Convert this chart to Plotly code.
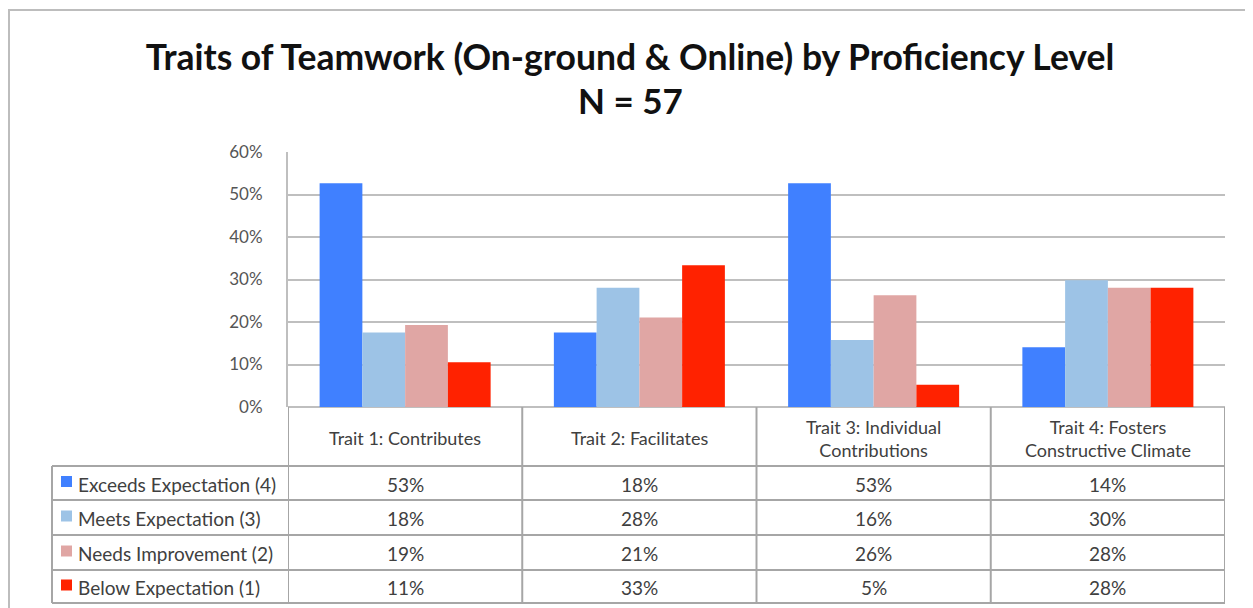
import plotly.graph_objects as go

# ---- data ----
categories = ["Trait 1: Contributes", "Trait 2: Facilitates",
              "Trait 3: Individual<br>Contributions",
              "Trait 4: Fosters<br>Constructive Climate"]
series_names = ["Exceeds Expectation (4)", "Meets Expectation (3)",
                "Needs Improvement (2)", "Below Expectation (1)"]
exceeds = [52.63, 17.54, 52.63, 14.04]
meets = [17.54, 28.07, 15.79, 29.82]
needs = [19.30, 21.05, 26.32, 28.07]
below = [10.53, 33.33, 5.26, 28.07]
series_values = [exceeds, meets, needs, below]
series_colors = ["#4080FF", "#9DC3E6", "#E0A6A4", "#FF2200"]
y_ticks = [0, 10, 20, 30, 40, 50, 60]
y_tick_labels = ["0%", "10%", "20%", "30%", "40%", "50%", "60%"]

# ---- geometry (page pixels; the page body has an 8px margin) ----
OFF = 8
W, H = 1253 - OFF, 608 - OFF
PL, PR, PT, PB = 288, 1225, 152, 407          # plot area in page px
L, T = PL - OFF, PT - OFF
R, B = W - (PR - OFF), H - (PB - OFF)
PW, PH = W - L - R, H - T - B
FONT = "Lato"
GRID = "#BFBFBF"
TLINE = "#A6A6A6"
TXT = "#404040"

def px(xp):
    return (xp - OFF - L) / PW

def py(yp):
    return (H - B - (yp - OFF)) / PH

xidx = list(range(len(categories)))

fig = go.Figure()
for name, vals, col in zip(series_names, series_values, series_colors):
    fig.add_trace(go.Bar(x=xidx, y=vals, name=name, marker_color=col,
                         marker_line_width=0, showlegend=False,
                         hovertemplate="%{y:.0f}%<extra>" + name + "</extra>"))

shapes = []
annotations = []

# outer border
shapes.append(dict(type="rect", xref="paper", yref="paper",
                   x0=px(9), x1=px(1247), y0=py(640), y1=py(10),
                   line=dict(color="#BDBDBD", width=2), layer="below"))

# table row boundaries
row_edges = [466, 500, 535, 570, 603]
for yv in row_edges:
    shapes.append(dict(type="line", xref="paper", yref="paper",
                       x0=px(52), x1=1, y0=py(yv), y1=py(yv),
                       line=dict(color=TLINE, width=2)))
# legend column left edge
shapes.append(dict(type="line", xref="paper", yref="paper",
                   x0=px(52), x1=px(52), y0=py(466), y1=py(603),
                   line=dict(color=TLINE, width=2)))
# category column lines
for i in range(len(categories) + 1):
    shapes.append(dict(type="line", xref="x", yref="paper",
                       x0=i - 0.5, x1=i - 0.5, y0=0, y1=py(603),
                       line=dict(color=TLINE, width=2)))

# header text
for i, c in enumerate(categories):
    annotations.append(dict(x=i, y=py(438), xref="x", yref="paper",
                            xanchor="center", yanchor="middle",
                            text=c, showarrow=False, align="center",
                            font=dict(family=FONT, size=18, color=TXT)))

# row labels, legend keys, values
for r, (name, vals, col) in enumerate(zip(series_names, series_values, series_colors)):
    top, bot = row_edges[r], row_edges[r + 1]
    cy = (top + bot) / 2 + 1
    shapes.append(dict(type="rect", xref="paper", yref="paper",
                       x0=px(61), x1=px(72), y0=py(cy + 3), y1=py(cy - 8),
                       fillcolor=col, line=dict(width=0)))
    annotations.append(dict(x=px(76), y=py(cy), xref="paper", yref="paper",
                            text=name, showarrow=False,
                            xanchor="left", yanchor="middle",
                            font=dict(family=FONT, size=19, color=TXT)))
    for i, v in enumerate(vals):
        annotations.append(dict(x=i, y=py(cy), xref="x", yref="paper",
                                xanchor="center", yanchor="middle",
                                text=f"{v:.0f}%", showarrow=False,
                                font=dict(family=FONT, size=19, color=TXT)))

# second title line
annotations.append(dict(x=px(630), y=py(100),
                        xref="paper", yref="paper", xanchor="center", yanchor="middle",
                        text="<b>N = 57</b>", showarrow=False,
                        font=dict(family=FONT, size=35, color="#111111")))

fig.update_layout(
    width=W, height=H,
    margin=dict(l=L, r=R, t=T, b=B, pad=0),
    paper_bgcolor="white", plot_bgcolor="white",
    barmode="group", bargap=0.27, bargroupgap=0,
    title=dict(text="Traits of Teamwork (On-ground & Online) by Proficiency Level",
               x=(630 - OFF) / W, xanchor="center", xref="container",
               y=1 - (58 - OFF) / H, yanchor="middle", yref="container",
               font=dict(family=FONT, size=35.5, color="#111111", weight="bold")),
    xaxis=dict(range=[-0.5, 3.5], showticklabels=False, showgrid=False,
               zeroline=False, showline=False, fixedrange=True),
    yaxis=dict(range=[0, 60], tickvals=y_ticks, ticktext=y_tick_labels,
               showgrid=True, gridcolor=GRID, gridwidth=2,
               showline=True, linecolor=GRID, linewidth=2,
               zeroline=True, zerolinecolor=GRID, zerolinewidth=2,
               ticks="", ticklabelstandoff=20,
               tickfont=dict(family=FONT, size=17, color="#555555")),
    shapes=shapes, annotations=annotations,
)

fig.write_html("out.html")
